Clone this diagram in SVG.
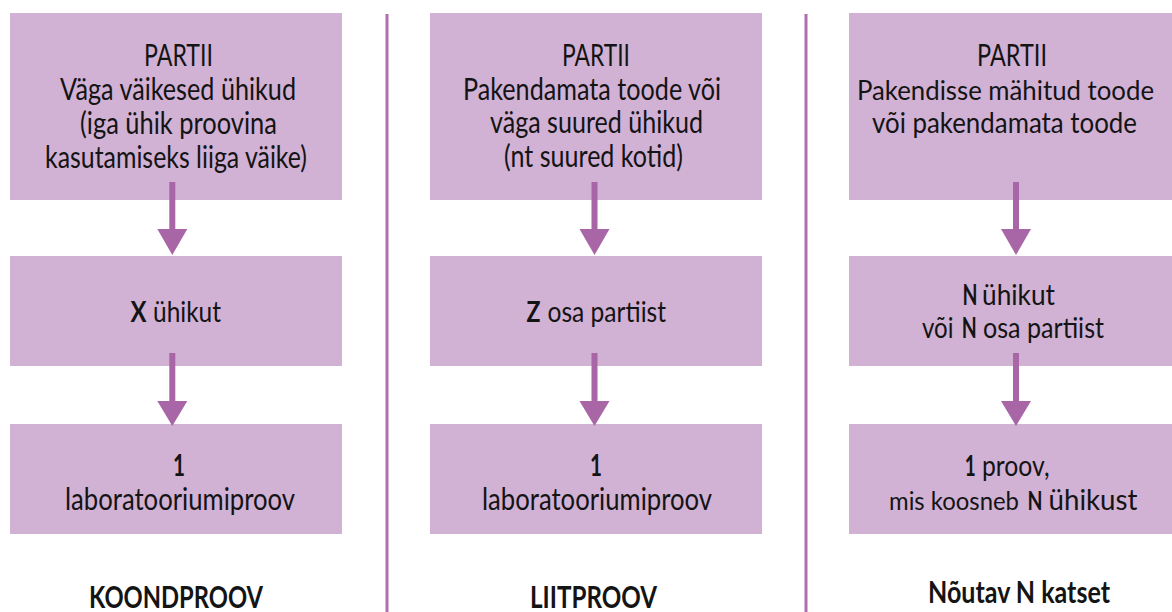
<svg xmlns="http://www.w3.org/2000/svg" width="1172" height="612" viewBox="0 0 1172 612">
<style>
.box{fill:#d1b1d4}
.t{font-family:Lato,"Liberation Sans",sans-serif;font-size:30px;fill:#141414;text-anchor:middle}
.m{font-size:28px}
.s{font-size:26px}
.xs{font-size:25px}
.b{font-weight:700}
.arr{fill:#a866a7}
.div{stroke:#b06eb0;stroke-width:3}
</style>
<rect width="1172" height="612" fill="#ffffff"/>
<g id="dividers">
<line class="div" x1="387" y1="14" x2="387" y2="612"/>
<line class="div" x1="806" y1="14" x2="806" y2="612"/>
</g>
<g id="col1-top">
<rect class="box" x="10" y="13" width="332" height="187"/>
<text class="t" x="178.5" y="66" textLength="69" lengthAdjust="spacingAndGlyphs">PARTII</text>
<text class="t" x="178" y="100" textLength="236" lengthAdjust="spacingAndGlyphs">Väga väikesed ühikud</text>
<text class="t" x="178.5" y="133.5" textLength="197" lengthAdjust="spacingAndGlyphs">(iga ühik proovina</text>
<text class="t" x="176" y="167.5" textLength="262" lengthAdjust="spacingAndGlyphs">kasutamiseks liiga väike)</text>
</g>
<g id="col1-mid">
<rect class="box" x="10" y="256" width="332" height="110"/>
<text class="t m b" x="138.5" y="322" textLength="16" lengthAdjust="spacingAndGlyphs">X</text>
<text class="t m" x="187" y="322" textLength="68" lengthAdjust="spacingAndGlyphs">ühikut</text>
</g>
<g id="col1-bot">
<rect class="box" x="10" y="424" width="332" height="110"/>
<text class="t b" x="179" y="476" textLength="12" lengthAdjust="spacingAndGlyphs">1</text>
<text class="t" x="180" y="509.5" textLength="230" lengthAdjust="spacingAndGlyphs">laboratooriumiproov</text>
</g>
<g id="col1-label">
<text class="t b" x="176" y="608" textLength="174" lengthAdjust="spacingAndGlyphs">KOONDPROOV</text>
</g>
<g id="col2-top">
<rect class="box" x="430" y="13" width="332" height="187"/>
<text class="t" x="596" y="65.5" textLength="68" lengthAdjust="spacingAndGlyphs">PARTII</text>
<text class="t" x="592" y="99.5" textLength="258" lengthAdjust="spacingAndGlyphs">Pakendamata toode või</text>
<text class="t" x="596.5" y="132.5" textLength="213" lengthAdjust="spacingAndGlyphs">väga suured ühikud</text>
<text class="t" x="593.5" y="166.5" textLength="179" lengthAdjust="spacingAndGlyphs">(nt suured kotid)</text>
</g>
<g id="col2-mid">
<rect class="box" x="430" y="256" width="332" height="110"/>
<text class="t m b" x="533.5" y="322" textLength="14" lengthAdjust="spacingAndGlyphs">Z</text>
<text class="t m" x="606.75" y="322" textLength="118.5" lengthAdjust="spacingAndGlyphs">osa partiist</text>
</g>
<g id="col2-bot">
<rect class="box" x="430" y="424" width="332" height="110"/>
<text class="t b" x="596" y="476" textLength="12" lengthAdjust="spacingAndGlyphs">1</text>
<text class="t" x="597" y="509.5" textLength="230" lengthAdjust="spacingAndGlyphs">laboratooriumiproov</text>
</g>
<g id="col2-label">
<text class="t b" x="593.5" y="608" textLength="127" lengthAdjust="spacingAndGlyphs">LIITPROOV</text>
</g>
<g id="col3-top">
<rect class="box" x="849" y="13" width="323" height="187"/>
<text class="t" x="1012" y="65.5" textLength="70" lengthAdjust="spacingAndGlyphs">PARTII</text>
<text class="t s" x="1005.5" y="99.5" textLength="297" lengthAdjust="spacingAndGlyphs">Pakendisse mähitud toode</text>
<text class="t m" x="1004.5" y="132.5" textLength="265" lengthAdjust="spacingAndGlyphs">või pakendamata toode</text>
</g>
<g id="col3-mid">
<rect class="box" x="849" y="256" width="323" height="110"/>
<text class="t m b" x="970" y="305" textLength="15" lengthAdjust="spacingAndGlyphs">N</text>
<text class="t m" x="1018.5" y="305" textLength="73" lengthAdjust="spacingAndGlyphs">ühikut</text>
<text class="t m" x="937.75" y="338" textLength="31.5" lengthAdjust="spacingAndGlyphs">või</text>
<text class="t m b" x="969.25" y="338" textLength="15" lengthAdjust="spacingAndGlyphs">N</text>
<text class="t m" x="1043.5" y="338" textLength="121" lengthAdjust="spacingAndGlyphs">osa partiist</text>
</g>
<g id="col3-bot">
<rect class="box" x="849" y="424" width="323" height="110"/>
<text class="t m b" x="970.25" y="476" textLength="11" lengthAdjust="spacingAndGlyphs">1</text>
<text class="t m" x="1015.75" y="476" textLength="67.5" lengthAdjust="spacingAndGlyphs">proov,</text>
<text class="t xs" x="954" y="509.5" textLength="130" lengthAdjust="spacingAndGlyphs">mis koosneb</text>
<text class="t s b" x="1035" y="509.5" textLength="15" lengthAdjust="spacingAndGlyphs">N</text>
<text class="t m" x="1093" y="509.5" textLength="89" lengthAdjust="spacingAndGlyphs">ühikust</text>
</g>
<g id="col3-label">
<text class="t b" x="1019" y="603" textLength="182" lengthAdjust="spacingAndGlyphs">Nõutav N katset</text>
</g>
<g id="connectors">
<rect class="arr" x="169.3" y="182" width="6" height="48"/>
<polygon class="arr" points="157.3,229 187.3,229 172.3,255"/>
<rect class="arr" x="169.3" y="353" width="6" height="49"/>
<polygon class="arr" points="157.3,401 187.3,401 172.3,426"/>
<rect class="arr" x="591.5" y="182" width="6" height="48"/>
<polygon class="arr" points="579.5,229 609.5,229 594.5,255"/>
<rect class="arr" x="591.5" y="353" width="6" height="49"/>
<polygon class="arr" points="579.5,401 609.5,401 594.5,426"/>
<rect class="arr" x="1013" y="182" width="6" height="48"/>
<polygon class="arr" points="1001,229 1031,229 1016,255"/>
<rect class="arr" x="1013" y="353" width="6" height="49"/>
<polygon class="arr" points="1001,401 1031,401 1016,426"/>
</g>
</svg>
